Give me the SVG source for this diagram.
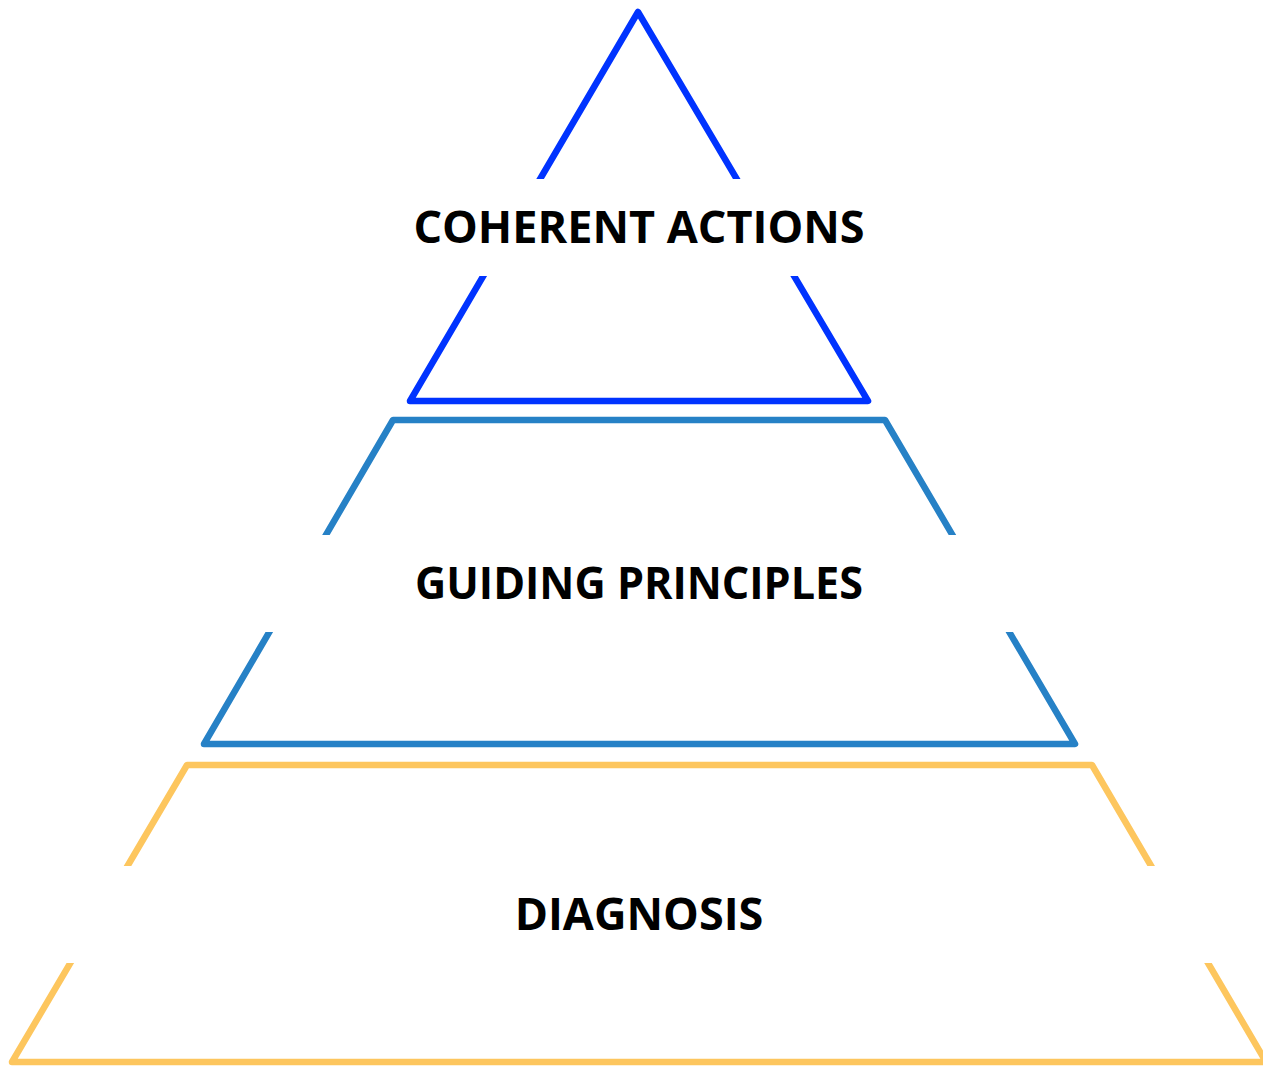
<svg xmlns="http://www.w3.org/2000/svg" width="1263" height="1070" viewBox="0 0 1263 1070">
  <style>
    .tier { fill: none; stroke-width: 6.5; stroke-linejoin: round; }
    .band { fill: #ffffff; }
    .label { font-family: "Open Sans", "Liberation Sans", sans-serif; font-weight: 700; font-size: 45px; fill: #000000; text-anchor: middle; }
  </style>
  <rect width="1263" height="1070" fill="#ffffff"/>
  <!-- top tier: triangle, white band behind its label -->
  <g id="tier-actions">
    <polygon class="tier" stroke="#0033FF" points="638,12 868,401 410,401"/>
    <rect class="band" x="300" y="179" width="680" height="97"/>
    <text class="label" x="639" y="243">COHERENT ACTIONS</text>
  </g>
  <!-- middle tier -->
  <g id="tier-principles">
    <polygon class="tier" stroke="#2681C6" points="393,420 885,420 1075,744 204,744"/>
    <rect class="band" x="150" y="535" width="980" height="97"/>
    <text class="label" x="639" y="599" textLength="448" lengthAdjust="spacingAndGlyphs">GUIDING PRINCIPLES</text>
  </g>
  <!-- base tier, runs slightly past the right edge -->
  <g id="tier-diagnosis">
    <polygon class="tier" stroke="#FDC65E" points="187,765 1092,765 1266,1062 12,1062"/>
    <rect class="band" x="0" y="866" width="1263" height="97"/>
    <text class="label" x="639" y="930">DIAGNOSIS</text>
  </g>
  <g id="connectors"/>
</svg>
